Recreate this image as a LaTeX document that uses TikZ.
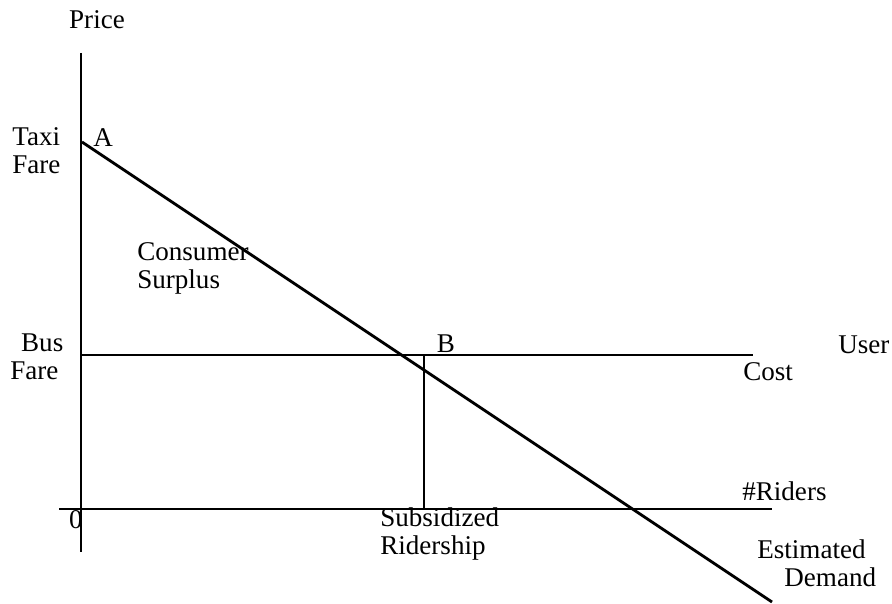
\documentclass[tikz,border=0pt]{standalone}
\usepackage{fontspec}
\setmainfont{Liberation Serif}
\usetikzlibrary{positioning}

\begin{document}
\begin{tikzpicture}[x=0.02cm, y=-0.02cm,
    axis/.style={line width=1.6pt},
    guide/.style={line width=0.8pt},
    every node/.style={inner sep=0pt, font=\fontsize{15.4}{16}\selectfont}]
  \useasboundingbox (0,0) rectangle (892,604);
  \coordinate (ytop) at (81,53);
  \coordinate (ybot) at (81,552);
  \coordinate (a) at (82,142);
  \coordinate (dend) at (772,602);
  \coordinate (c0) at (81,355);
  \coordinate (c1) at (753,355);
  \coordinate (r0) at (59,509);
  \coordinate (r1) at (772,509);
  \coordinate (s1) at (424,509);
  \coordinate (s0) at (s1 |- c0);
  \node (price) at (97,20) {Price};
  \node (taxi) [anchor=west, align=left] at (12,151) {Taxi\\Fare};
  \node (lA) [anchor=west] at (93,138) {A};
  \node (surplus) [anchor=west, align=left] at (137,268) {Consumer\\Surplus};
  \node (bus) [anchor=west, align=left] at (10,357) {\hspace{0.4em}Bus\\Fare};
  \node (lB) at (446,344) {B};
  \node (user) [anchor=west] at (838,345) {User};
  \node (cost) [anchor=west] at (743,372) {Cost};
  \node (riders) [anchor=west] at (742,491) {\#Riders};
  \node (zero) at (76,520) {0};
  \node (subs) [anchor=west, align=left] at (380,534) {Subsidized\\Ridership};
  \node (demand) [anchor=west, align=left] at (757,563) {Estimated\\\hspace{1.0em}Demand};
  \draw [axis] (ytop) -- (ybot);
  \draw [axis] (r0) -- (r1);
  \draw [axis] (c0) -- (c1);
  \draw [axis] (a) -- (dend);
  \draw [guide] (s0) -- (s1);
\end{tikzpicture}
\end{document}
